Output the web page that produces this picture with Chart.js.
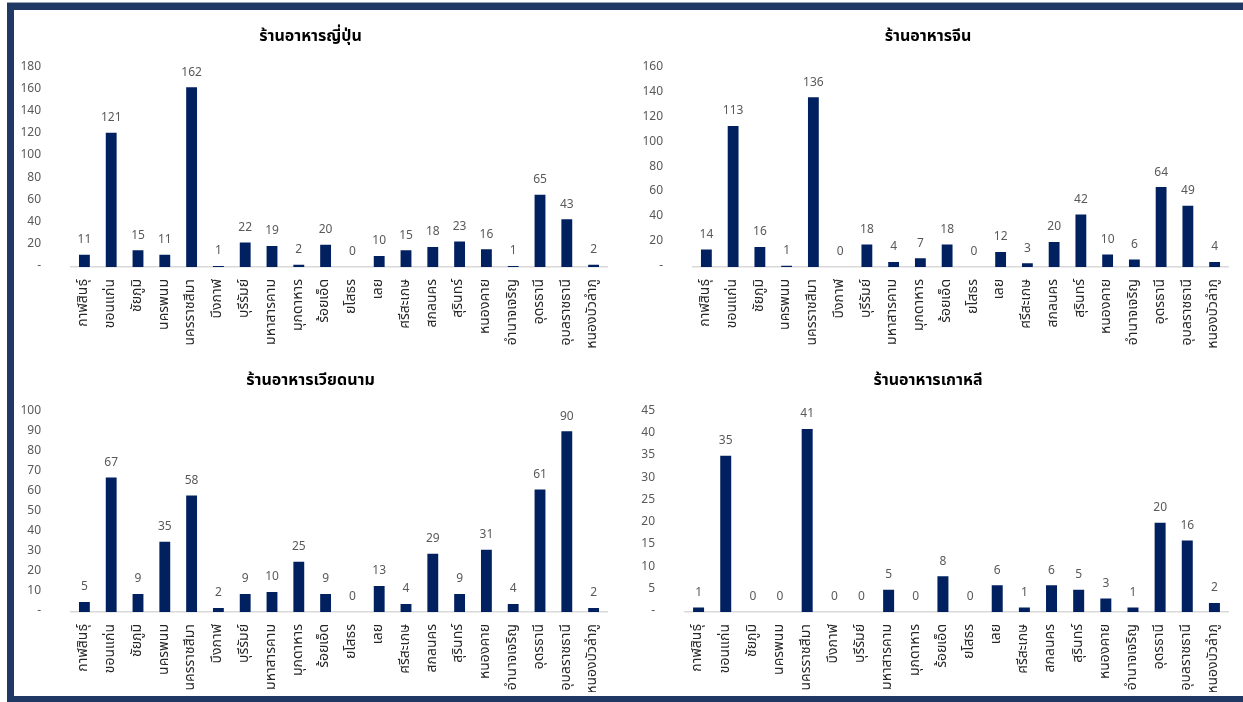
<!DOCTYPE html>
<html>
<head>
<meta charset="utf-8">
<script src="https://cdn.jsdelivr.net/npm/chart.js@4.4.0/dist/chart.umd.min.js"></script>
<style>
body{margin:0;background:#fff;overflow:hidden;width:1243px;height:702px;position:relative}
.frame{position:absolute;left:7px;top:3px;width:1300px;height:699px;box-sizing:border-box;border:7px solid #203864;border-right:none;border-bottom-width:6px}
.topline{position:absolute;left:7px;top:2px;width:1300px;height:1px;background:#9aa3b5}
canvas{position:absolute}
</style>
</head>
<body>
<div class="topline"></div>
<div class="frame"></div>
<canvas id="japan"></canvas>
<canvas id="china"></canvas>
<canvas id="vietnam"></canvas>
<canvas id="korea"></canvas>
<script>
// provinces (x categories)
const provinces = ['กาฬสินธุ์','ขอนแก่น','ชัยภูมิ','นครพนม','นครราชสีมา','บึงกาฬ','บุรีรัมย์','มหาสารคาม','มุกดาหาร','ร้อยเอ็ด','ยโสธร','เลย','ศรีสะเกษ','สกลนคร','สุรินทร์','หนองคาย','อำนาจเจริญ','อุดรธานี','อุบลราชธานี','หนองบัวลำภู'];

// number of restaurants per province
const japanese = [11,121,15,11,162,1,22,19,2,20,0,10,15,18,23,16,1,65,43,2];
const chinese = [14,113,16,1,136,0,18,4,7,18,0,12,3,20,42,10,6,64,49,4];
const vietnamese = [5,67,9,35,58,2,9,10,25,9,0,13,4,29,9,31,4,61,90,2];
const korean = [1,35,0,0,41,0,0,5,0,8,0,6,1,6,5,3,1,20,16,2];

const titles = ['ร้านอาหารญี่ปุ่น','ร้านอาหารจีน','ร้านอาหารเวียดนาม','ร้านอาหารเกาหลี'];

// y axis range: [max, step]
const yJapan = [180, 20];
const yChina = [160, 20];
const yVietnam = [100, 10];
const yKorea = [45, 5];

const thaiFont = "'Noto Sans Thai', Tahoma, 'Noto Sans', 'DejaVu Sans', sans-serif";
const barColor = '#002060';

// draws the value above every bar
const valueLabels = {
  id: 'valueLabels',
  afterDatasetsDraw(chart) {
    let ctx = chart.ctx;
    let meta = chart.getDatasetMeta(0);
    let vals = chart.data.datasets[0].data;
    ctx.save();
    ctx.font = '12px ' + thaiFont;
    ctx.fillStyle = '#595959';
    ctx.textAlign = 'center';
    ctx.textBaseline = 'middle';
    meta.data.forEach(function(bar, i){
      ctx.fillText(vals[i], bar.x, bar.y - 14);
    });
    ctx.restore();
  }
};

function makeChart(id, title, values, yRange, box){
  let canvas = document.getElementById(id);
  canvas.width = box.w;
  canvas.height = box.h;
  canvas.style.left = box.left + 'px';
  canvas.style.top = box.top + 'px';

  return new Chart(canvas.getContext('2d'), {
    type: 'bar',
    data: {
      labels: provinces,
      datasets: [{
        data: values,
        backgroundColor: barColor,
        categoryPercentage: 0.45,
        barPercentage: 0.9
      }]
    },
    options: {
      responsive: false,
      animation: false,
      layout: {padding: {top: 16, left: 0, right: 10, bottom: 0}},
      plugins: {
        legend: {display: false},
        tooltip: {enabled: false},
        title: {
          display: true,
          text: title,
          color: '#000',
          font: {size: 16, weight: 'bold', family: thaiFont},
          padding: {top: 0, bottom: 20}
        }
      },
      scales: {
        x: {
          grid: {display: false},
          border: {color: '#d9d9d9', width: 1.5},
          ticks: {
            autoSkip: false,
            maxRotation: 90,
            minRotation: 90,
            padding: 4,
            color: '#262626',
            font: {size: 14, family: thaiFont}
          },
          afterFit: function(s){ s.height = box.xh; }
        },
        y: {
          min: 0,
          max: yRange[0],
          grid: {display: false},
          border: {display: false},
          ticks: {
            stepSize: yRange[1],
            padding: 22,
            color: '#595959',
            font: {size: 12, family: thaiFont},
            callback: function(v){ return v === 0 ? '-' : v; }
          },
          afterFit: function(s){ s.width = box.yw; }
        }
      }
    },
    plugins: [valueLabels]
  });
}

makeChart('japan', titles[0], japanese, yJapan, {left: 14, top: 12, w: 603, h: 340, yw: 57, xh: 85});
makeChart('china', titles[1], chinese, yChina, {left: 628, top: 12, w: 610, h: 340, yw: 65, xh: 85});
makeChart('vietnam', titles[2], vietnamese, yVietnam, {left: 14, top: 356, w: 603, h: 336, yw: 57, xh: 80});
makeChart('korea', titles[3], korean, yKorea, {left: 628, top: 356, w: 610, h: 336, yw: 57, xh: 80});
</script>
</body>
</html>
